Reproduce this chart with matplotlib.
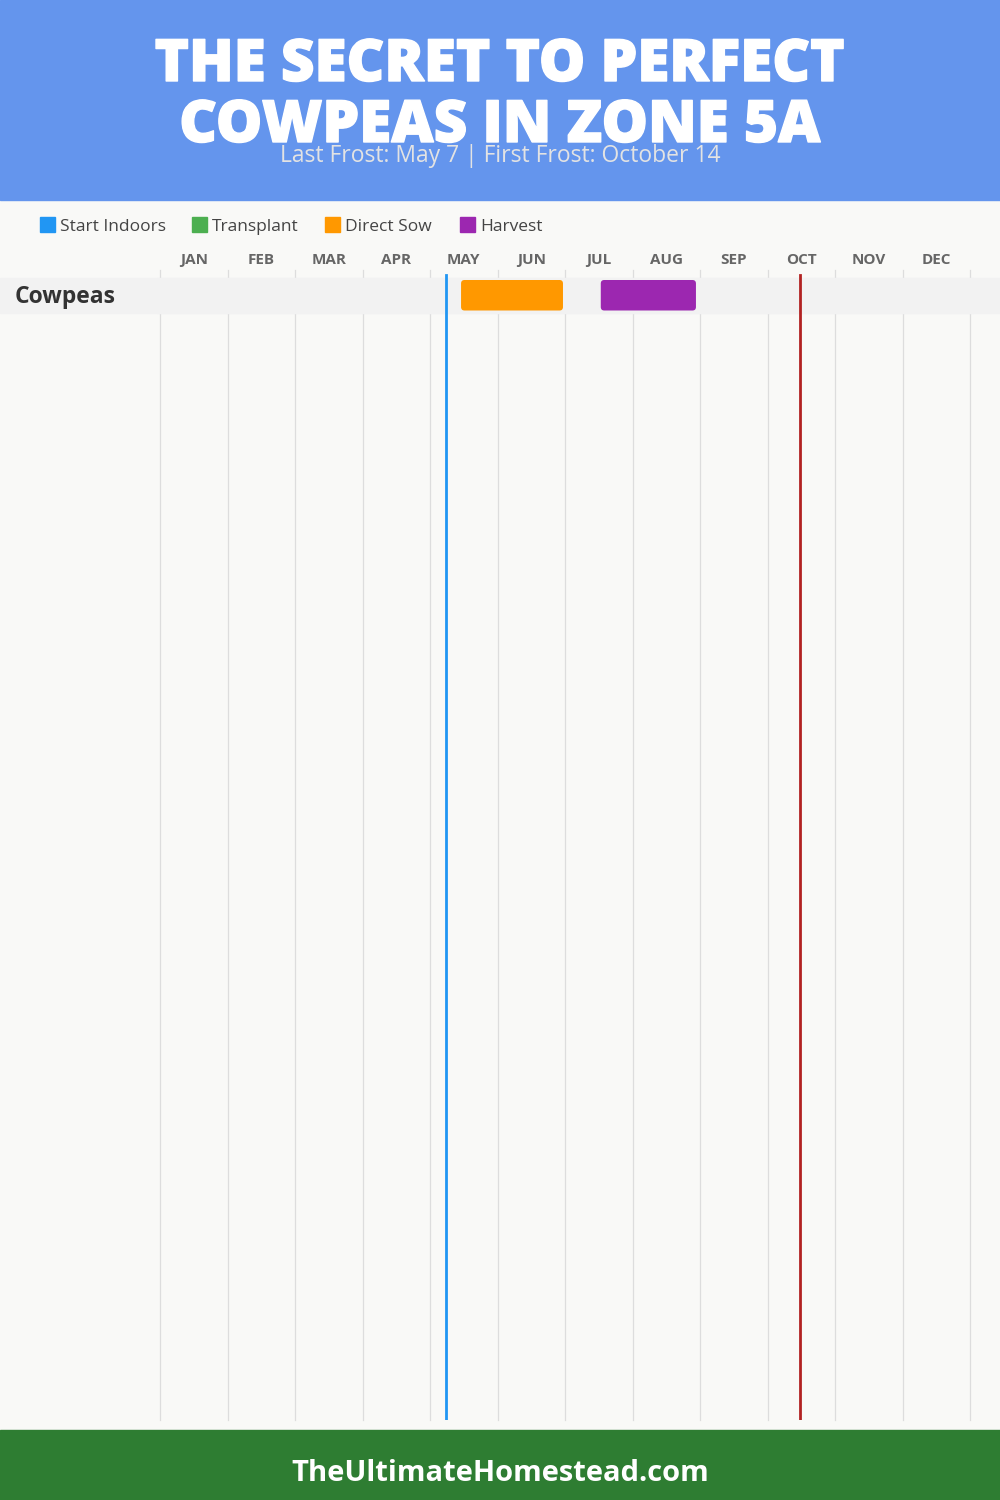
import matplotlib
matplotlib.use("Agg")
import matplotlib.pyplot as plt
import matplotlib.patheffects as pe
from matplotlib.patches import FancyBboxPatch, Rectangle

# ---- data ----
title_lines = ["THE SECRET TO PERFECT", "COWPEAS IN ZONE 5A"]
subtitle = "Last Frost: May 7 | First Frost: October 14"
footer = "TheUltimateHomestead.com"
months = ["JAN", "FEB", "MAR", "APR", "MAY", "JUN", "JUL", "AUG", "SEP", "OCT", "NOV", "DEC"]
legend_labels = ["Start Indoors", "Transplant", "Direct Sow", "Harvest"]
legend_colors = ["#2196F3", "#4CAF50", "#FF9800", "#9C27B0"]
crops = ["Cowpeas"]
# month positions (0 = Jan 1, 12 = Dec 31)
direct_sow = [(4.46, 5.97)]
harvest = [(6.53, 7.94)]
last_frost = 4.23
first_frost = 9.48

W, H = 1000, 1500
fig = plt.figure(figsize=(10, 15), dpi=100)
fig.patch.set_facecolor("#F9F9F7")

bg = fig.add_axes([0, 0, 1, 1])
bg.set_xlim(0, W)
bg.set_ylim(H, 0)
bg.axis("off")

FONT = "Open Sans"
heavy = [pe.withStroke(linewidth=1.0, foreground="white")]

# header
bg.add_patch(Rectangle((0, 0), W, 200, color="#6495ED", zorder=1))
bg.text(500, 81, title_lines[0], ha="center", va="baseline", color="white",
        fontsize=42, fontweight=800, family=FONT, zorder=3, path_effects=heavy)
bg.text(500, 142, title_lines[1], ha="center", va="baseline", color="white",
        fontsize=42, fontweight=800, family=FONT, zorder=3, path_effects=heavy)
bg.text(500, 162, subtitle, ha="center", va="baseline", color="#E3E3E3",
        fontsize=16.5, family=FONT, zorder=4)

# footer
bg.add_patch(Rectangle((0, 1430), W, 70, color="#2E7D32", zorder=1))
bg.text(500, 1481, footer, ha="center", va="baseline", color="white",
        fontsize=21, fontweight="bold", family=FONT, zorder=3)

# legend
lx = [40, 192, 325, 460]
for x, lab, col in zip(lx, legend_labels, legend_colors):
    bg.add_patch(Rectangle((x, 217), 15, 15, color=col, zorder=3))
    bg.text(x + 20, 231, lab, ha="left", va="baseline", color="#444444",
            fontsize=12.5, family=FONT, zorder=3)

# row bands + labels
row_h = 35
row_top0 = 278
for i, crop in enumerate(crops):
    top = row_top0 + i * row_h
    bg.add_patch(Rectangle((0, top), W, row_h, color="#F2F2F2", zorder=2))
    bg.text(15, top + 25, crop, ha="left", va="baseline", color="#333333",
            fontsize=16.5, fontweight="bold", family=FONT, zorder=3)

# chart axes: x in months, y in pixels
x0, x1 = 160, 970
y0, y1 = 240, 1420
ax = fig.add_axes([x0 / W, 1 - y1 / H, (x1 - x0) / W, (y1 - y0) / H])
ax.set_xlim(0, 12)
ax.set_ylim(y1, y0)
ax.axis("off")
ax.patch.set_alpha(0)

for k in range(13):
    ax.plot([k, k], [270, y1], color="#DDDDDD", lw=0.9, zorder=1, clip_on=False)
for k, m in enumerate(months):
    ax.text(k + 0.5, 264, m, ha="center", va="baseline", color="#666666",
            fontsize=11, fontweight="bold", family=FONT)

# re-cover grid lines inside row band
for i, crop in enumerate(crops):
    top = row_top0 + i * row_h
    ax.add_patch(Rectangle((-0.05, top), 12.1, row_h, color="#F2F2F2", zorder=2, clip_on=False))

aspect = (x1 - x0) / 12.0  # px per month
def bar(ax, start, end, top, color):
    ax.add_patch(FancyBboxPatch((start, top), end - start, 30.5,
                                boxstyle="round,pad=0,rounding_size=%f" % (3.5 / aspect),
                                mutation_aspect=aspect, facecolor=color,
                                edgecolor="none", zorder=4))

for i, crop in enumerate(crops):
    top = row_top0 + i * row_h + 2
    s, e = direct_sow[i]
    bar(ax, s, e, top, legend_colors[2])
    s, e = harvest[i]
    bar(ax, s, e, top, legend_colors[3])

ax.plot([last_frost, last_frost], [275, y1], color="#2196F3", lw=2, zorder=5)
ax.plot([first_frost, first_frost], [275, y1], color="#B22222", lw=2, zorder=5)

fig.savefig("out.png", dpi=100, facecolor=fig.get_facecolor())
